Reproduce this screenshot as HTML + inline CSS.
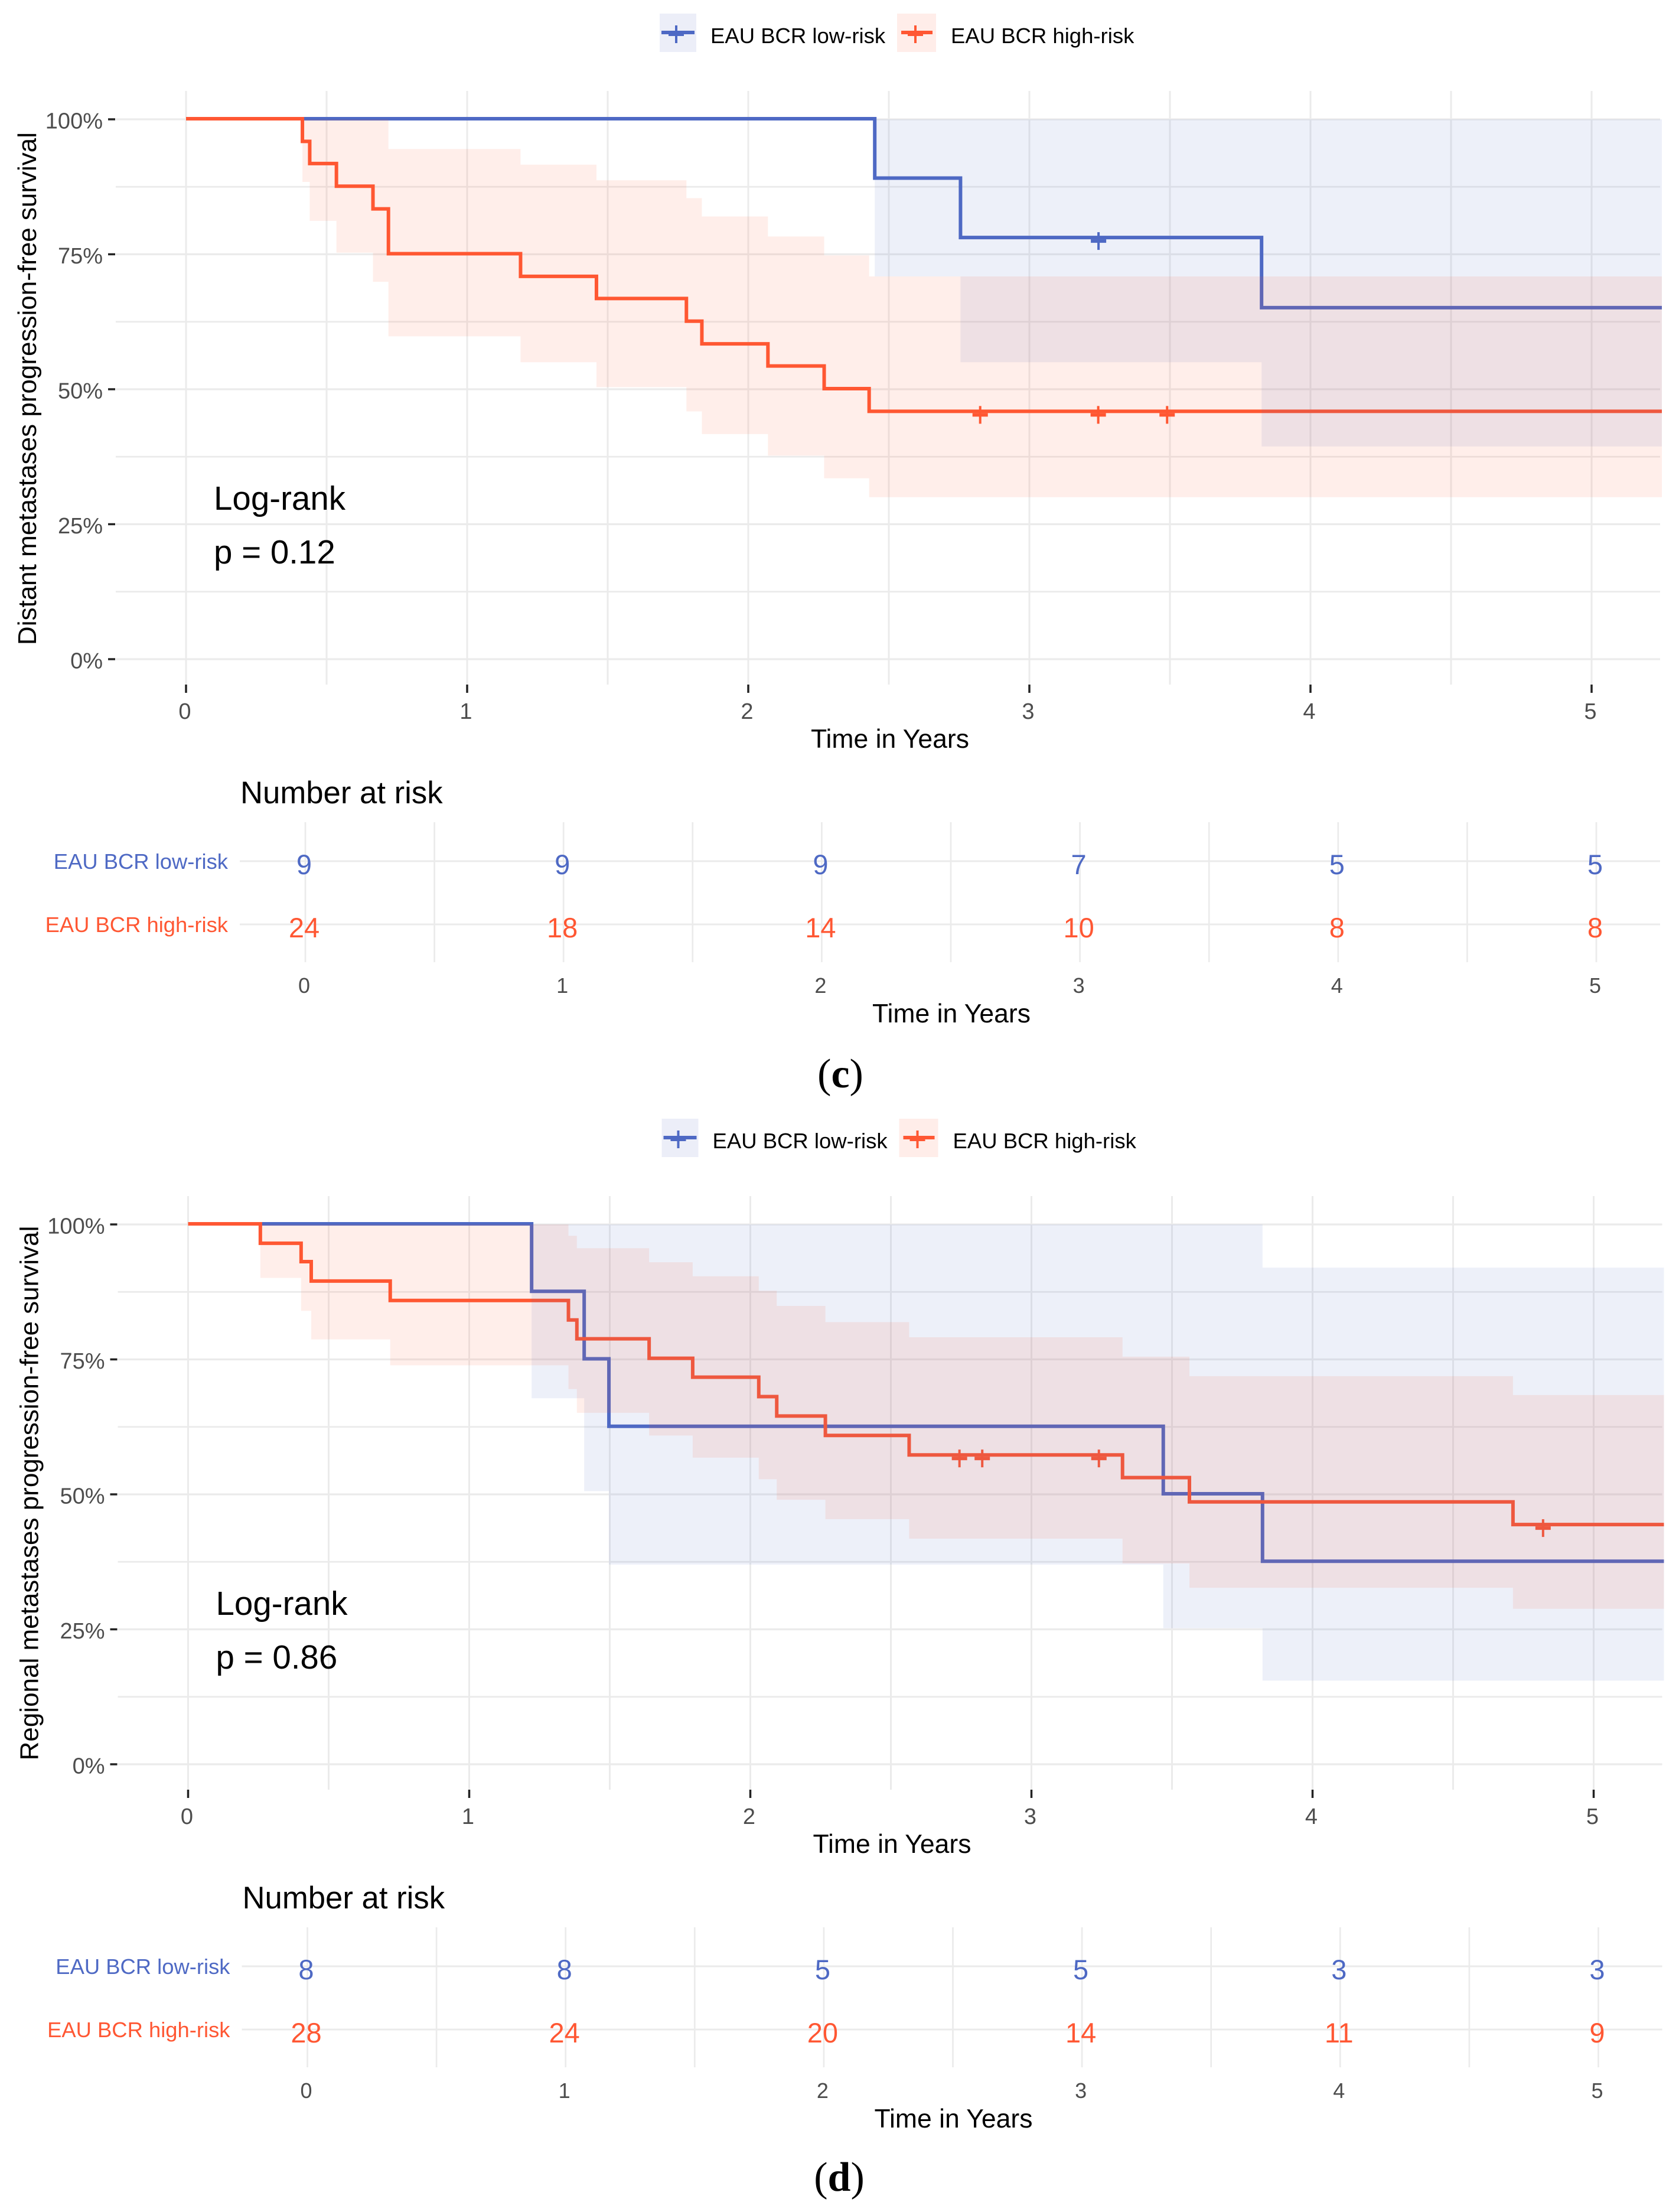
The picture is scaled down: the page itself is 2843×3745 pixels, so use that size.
<!DOCTYPE html>
<html lang="en">
<head>
<meta charset="utf-8">
<title>Kaplan-Meier curves by EAU BCR risk group</title>
<style>
  html, body { margin: 0; padding: 0; background: #fff; }
  svg { display: block; font-family: "Liberation Sans", Arial, sans-serif; }
  .tick-label { fill: #4d4d4d; font-size: 38px; }
  .axis-title { fill: #000; font-size: 44.5px; }
  .y-title { fill: #000; font-size: 44px; }
  .legend-text { fill: #000; font-size: 36.5px; }
  .stat { fill: #000; font-size: 56.5px; }
  .risk-title { fill: #000; font-size: 52.7px; }
  .caption { fill: #000; font-family: "Liberation Serif", serif; font-size: 70px; }
</style>
</head>
<body>
<svg id="figure" xmlns="http://www.w3.org/2000/svg" width="2843" height="3745" viewBox="0 0 2843 3745">
  <rect width="2843" height="3745" fill="#ffffff"/>

  <g id="panel-c" transform="translate(0 0)">
    <g id="marks-c"></g>
    <g>
      <g>
        <rect x="1117" y="23" width="62" height="65" fill="#eceef8"/>
        <rect x="1120" y="52" width="56" height="6" fill="#4e69c4"/>
        <rect x="1132" y="55" width="26" height="6" fill="#4e69c4"/>
        <rect x="1143" y="43" width="4" height="30" fill="#4e69c4"/>
        <text class="legend-text" x="1203" y="73">EAU BCR low-risk</text>
      </g>
      <g>
        <rect x="1519" y="23" width="66" height="65" fill="#ffede9"/>
        <rect x="1526" y="52" width="53" height="6" fill="#ff5733"/>
        <rect x="1537" y="55" width="26" height="6" fill="#ff5733"/>
        <rect x="1548" y="43" width="4" height="30" fill="#ff5733"/>
        <text class="legend-text" x="1610" y="73">EAU BCR high-risk</text>
      </g>
    </g>
    <text class="y-title" text-anchor="middle" transform="translate(61 658) rotate(-90)">Distant metastases progression-free survival</text>
    <text class="axis-title" text-anchor="middle" x="1507" y="1266">Time in Years</text>
    <text class="stat" x="362" y="863">Log-rank</text>
    <text class="stat" x="362" y="954">p = 0.12</text>
    <text class="risk-title" x="407" y="1360">Number at risk</text>
    <text class="axis-title" text-anchor="middle" x="1611" y="1731">Time in Years</text>
  </g>
  <text class="caption" text-anchor="middle" x="1423" y="1841">(<tspan font-weight="bold">c</tspan>)</text>

  <g id="panel-d" transform="translate(3.5 1871)">
    <g id="marks-d"></g>
    <g>
      <g>
        <rect x="1117" y="23" width="62" height="65" fill="#eceef8"/>
        <rect x="1120" y="52" width="56" height="6" fill="#4e69c4"/>
        <rect x="1132" y="55" width="26" height="6" fill="#4e69c4"/>
        <rect x="1143" y="43" width="4" height="30" fill="#4e69c4"/>
        <text class="legend-text" x="1203" y="73">EAU BCR low-risk</text>
      </g>
      <g>
        <rect x="1519" y="23" width="66" height="65" fill="#ffede9"/>
        <rect x="1526" y="52" width="53" height="6" fill="#ff5733"/>
        <rect x="1537" y="55" width="26" height="6" fill="#ff5733"/>
        <rect x="1548" y="43" width="4" height="30" fill="#ff5733"/>
        <text class="legend-text" x="1610" y="73">EAU BCR high-risk</text>
      </g>
    </g>
    <text class="y-title" text-anchor="middle" transform="translate(61 657) rotate(-90)">Regional metastases progression-free survival</text>
    <text class="axis-title" text-anchor="middle" x="1507" y="1266">Time in Years</text>
    <text class="stat" x="362" y="863">Log-rank</text>
    <text class="stat" x="362" y="954">p = 0.86</text>
    <text class="risk-title" x="407" y="1360">Number at risk</text>
    <text class="axis-title" text-anchor="middle" x="1611" y="1731">Time in Years</text>
  </g>
  <text class="caption" text-anchor="middle" x="1421" y="3709">(<tspan font-weight="bold">d</tspan>)</text>
</svg>

<script>
/* Shared axis data */
var xTicks = [0, 1, 2, 3, 4, 5];
var xGrid = [0, 0.5, 1, 1.5, 2, 2.5, 3, 3.5, 4, 4.5, 5];
var yTicks = [0, 25, 50, 75, 100];
var yTickLabels = ['0%', '25%', '50%', '75%', '100%'];
var yMinor = [12.5, 37.5, 62.5, 87.5];
var xEnd = 5.25;
var riskGroups = ['EAU BCR low-risk', 'EAU BCR high-risk'];

/* Panel c series */
var cLowTimes = [2.45, 2.755, 3.826];
var cLowSurv = [89, 78, 65];
var cLowUpper = [100, 100, 100];
var cLowLower = [70.9, 55, 39.4];
var cLowCensor = [3.246];
var cHighTimes = [0.414, 0.44, 0.535, 0.665, 0.72, 1.19, 1.46, 1.78, 1.835, 2.07, 2.27, 2.43];
var cHighSurv = [95.8, 91.7, 87.5, 83.3, 75, 70.8, 66.7, 62.5, 58.3, 54.2, 50, 45.8];
var cHighUpper = [100, 100, 100, 100, 94.5, 91.6, 88.7, 85.4, 82, 78.3, 74.8, 70.9];
var cHighLower = [88.4, 81.2, 75.3, 69.9, 59.8, 55, 50.4, 45.9, 41.7, 37.7, 33.5, 30];
var cHighCensor = [2.825, 3.245, 3.49];
var cRiskLow = [9, 9, 9, 7, 5, 5];
var cRiskHigh = [24, 18, 14, 10, 8, 8];

/* Panel d series */
var dLowTimes = [1.222, 1.409, 1.497, 3.469, 3.822];
var dLowSurv = [87.5, 75, 62.5, 50, 37.5];
var dLowUpper = [100, 100, 100, 100, 92];
var dLowLower = [67.8, 50.6, 37, 25.2, 15.5];
var dLowCensor = [];
var dHighTimes = [0.257, 0.402, 0.438, 0.719, 1.353, 1.383, 1.64, 1.795, 2.03, 2.094, 2.267, 2.565, 3.324, 3.562, 4.713];
var dHighSurv = [96.4, 93, 89.4, 85.8, 82.2, 78.7, 75.1, 71.6, 68, 64.4, 60.8, 57.2, 53, 48.5, 44.3];
var dHighUpper = [100, 100, 100, 100, 97.9, 95.6, 93, 90.4, 87.7, 84.9, 81.9, 79.1, 75.5, 71.9, 68.4];
var dHighLower = [90.1, 84, 78.7, 73.9, 69.5, 65.1, 60.9, 56.8, 52.8, 49, 45.4, 41.8, 37.2, 32.7, 28.8];
var dHighCensor = [2.744, 2.825, 3.24, 4.82];
var dRiskLow = [8, 8, 5, 5, 3, 3];
var dRiskHigh = [28, 24, 20, 14, 11, 9];

var NS = 'http://www.w3.org/2000/svg';
var BLUE = '#4e69c4';
var RED = '#ff5733';
var GRID = '#ebebeb';

function xAxis(t) { return 315 + 476 * t; }
function yAxis(s) { return 1116 - 9.14 * s; }
function xRisk(t) { return 517 + 437.2 * t; }

function make(tag, parent, attrs) {
  var el = document.createElementNS(NS, tag);
  for (var k in attrs) { el.setAttribute(k, attrs[k]); }
  parent.appendChild(el);
  return el;
}

function stepPath(times, surv) {
  var d = 'M' + xAxis(0) + ' ' + (yAxis(100) - 1);
  var prev = 100;
  for (var i = 0; i < times.length; i++) {
    d += 'L' + xAxis(times[i]) + ' ' + (yAxis(prev) - 1);
    d += 'L' + xAxis(times[i]) + ' ' + (yAxis(surv[i]) - 1);
    prev = surv[i];
  }
  d += 'L' + xAxis(xEnd) + ' ' + (yAxis(prev) - 1);
  return d;
}

function bandPath(times, upper, lower) {
  var top = '';
  var bottom = '';
  for (var i = 0; i < times.length; i++) {
    var x0 = xAxis(times[i]);
    var x1 = xAxis(i + 1 < times.length ? times[i + 1] : xEnd);
    top += (i === 0 ? 'M' : 'L') + x0 + ' ' + yAxis(upper[i]) + 'L' + x1 + ' ' + yAxis(upper[i]);
    bottom = 'L' + x1 + ' ' + yAxis(lower[i]) + 'L' + x0 + ' ' + yAxis(lower[i]) + bottom;
  }
  return top + bottom + 'Z';
}

function drawCensors(parent, times, surv, censor, color, prefix) {
  censor.forEach(function (t) {
    var s = 100;
    for (var i = 0; i < times.length; i++) { if (times[i] <= t) { s = surv[i]; } }
    var cx = xAxis(t);
    var cy = yAxis(s) + 5;
    var g = make('g', parent, {});
    
    
    make('rect', g, { x: cx - 13, y: cy - 3, width: 26, height: 6, fill: color });
    make('rect', g, { x: cx - 2, y: cy - 15, width: 4, height: 30, fill: color });
  });
}

function drawPanel(root, panel, low, high, riskLow, riskHigh) {
  /* grid */
  xGrid.forEach(function (t) {
    var l = make('line', root, { x1: xAxis(t), x2: xAxis(t), y1: 154, y2: 1159, stroke: GRID, 'stroke-width': 3 });
    
    
  });
  yMinor.forEach(function (v) {
    var l = make('line', root, { x1: 196, x2: 2811, y1: yAxis(v), y2: yAxis(v), stroke: GRID, 'stroke-width': 2.7 });
    
    
  });
  yTicks.forEach(function (v, i) {
    var l = make('line', root, { x1: 196, x2: 2811, y1: yAxis(v), y2: yAxis(v), stroke: GRID, 'stroke-width': 3.3 });
    
    
    var tick = make('line', root, { x1: 183, x2: 195, y1: yAxis(v), y2: yAxis(v), stroke: '#222', 'stroke-width': 3.5 });
    
    
    var lab = make('text', root, { x: 174, y: yAxis(v) + 15.5, 'text-anchor': 'end', 'class': 'tick-label' });
    
    
    lab.textContent = yTickLabels[i];
  });
  xTicks.forEach(function (t) {
    var tick = make('line', root, { x1: xAxis(t), x2: xAxis(t), y1: 1159, y2: 1173, stroke: '#222', 'stroke-width': 3.5 });
    
    
    var lab = make('text', root, { x: xAxis(t) - 2, y: 1217, 'text-anchor': 'middle', 'class': 'tick-label' });
    
    
    lab.textContent = t;
  });

  /* survival lines */
  var lowLine = make('path', root, { d: stepPath(low.times, low.surv), fill: 'none', stroke: BLUE, 'stroke-width': 6 });
  
  
  var highLine = make('path', root, { d: stepPath(high.times, high.surv), fill: 'none', stroke: RED, 'stroke-width': 6 });
  
  

  /* censor marks */
  drawCensors(root, low.times, low.surv, low.censor, BLUE, panel + '-low-risk');
  drawCensors(root, high.times, high.surv, high.censor, RED, panel + '-high-risk');

  /* confidence bands sit over the lines */
  var lowBand = make('path', root, { d: bandPath(low.times, low.upper, low.lower), fill: BLUE, 'fill-opacity': 0.1 });
  
  
  var highBand = make('path', root, { d: bandPath(high.times, high.upper, high.lower), fill: RED, 'fill-opacity': 0.1 });
  
  

  /* risk table */
  xTicks.forEach(function (t) {
    var l = make('line', root, { x1: xRisk(t), x2: xRisk(t), y1: 1392, y2: 1629, stroke: GRID, 'stroke-width': 2.7 });
    
    
    if (t < 5) {
      var m = make('line', root, { x1: xRisk(t + 0.5), x2: xRisk(t + 0.5), y1: 1392, y2: 1629, stroke: GRID, 'stroke-width': 2.7 });
      
      
    }
  });
  [[riskLow, 1458, BLUE], [riskHigh, 1565, RED]].forEach(function (row, r) {
    var l = make('line', root, { x1: 406, x2: 2811, y1: row[1], y2: row[1], stroke: GRID, 'stroke-width': 3 });
    
    
    var name = make('text', root, { x: 386, y: row[1] + 13, 'text-anchor': 'end', fill: row[2], 'font-size': 36.4 });
    
    
    name.textContent = riskGroups[r];
    row[0].forEach(function (n, i) {
      var v = make('text', root, { x: xRisk(xTicks[i]) - 2, y: row[1] + 22, 'text-anchor': 'middle', fill: row[2], 'font-size': 47 });
      
      
      v.textContent = n;
    });
  });
  xTicks.forEach(function (t) {
    var lab = make('text', root, { x: xRisk(t) - 2, y: 1681, 'text-anchor': 'middle', 'class': 'tick-label' });
    
    
    lab.style.fontSize = '36px';
    lab.textContent = t;
  });
}

drawPanel(document.getElementById('marks-c'), 'panel-c',
  { times: cLowTimes, surv: cLowSurv, upper: cLowUpper, lower: cLowLower, censor: cLowCensor },
  { times: cHighTimes, surv: cHighSurv, upper: cHighUpper, lower: cHighLower, censor: cHighCensor },
  cRiskLow, cRiskHigh);
drawPanel(document.getElementById('marks-d'), 'panel-d',
  { times: dLowTimes, surv: dLowSurv, upper: dLowUpper, lower: dLowLower, censor: dLowCensor },
  { times: dHighTimes, surv: dHighSurv, upper: dHighUpper, lower: dHighLower, censor: dHighCensor },
  dRiskLow, dRiskHigh);
</script>
</body>
</html>
